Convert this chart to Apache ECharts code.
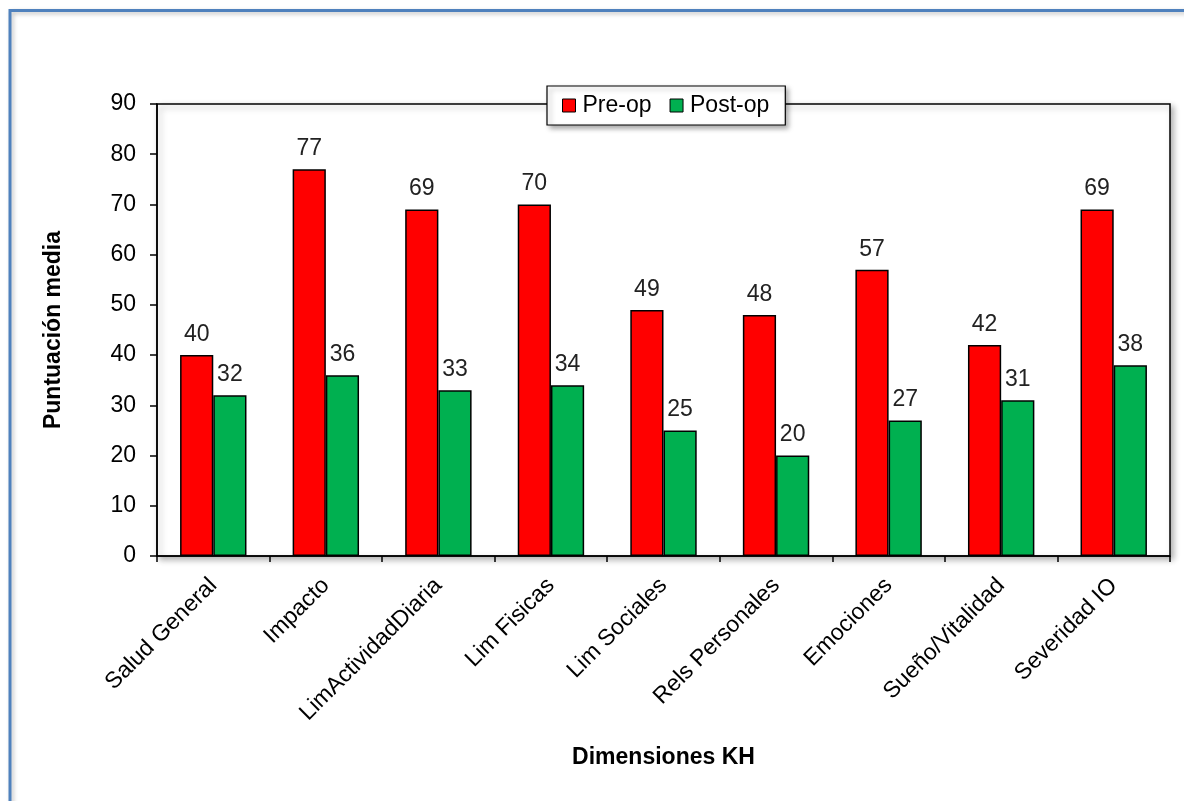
<!DOCTYPE html>
<html>
<head>
<meta charset="utf-8">
<script src="https://cdn.jsdelivr.net/npm/echarts@6/dist/echarts.min.js"></script>
<style>
  html, body { margin: 0; padding: 0; background: #fff; }
  #chart { width: 1184px; height: 801px; }
</style>
</head>
<body>
<div id="chart"></div>
<script>
// KH questionnaire dimensions, mean scores before and after surgery
const categories = ['Salud General', 'Impacto', 'LimActividadDiaria', 'Lim Fisicas', 'Lim Sociales',
  'Rels Personales', 'Emociones', 'Sueño/Vitalidad', 'Severidad IO'];
const preOp = [40, 77, 69, 70, 49, 48, 57, 42, 69];
const postOp = [32, 36, 33, 34, 25, 20, 27, 31, 38];
const seriesNames = ['Pre-op', 'Post-op'];

const FONT = '"Liberation Sans", Arial, sans-serif';

const chart = echarts.init(document.getElementById('chart'));

const labelStyle = {
  show: true,
  position: 'top',
  distance: 9,
  fontFamily: FONT,
  fontSize: 23,
  color: '#222'
};

chart.setOption({
  animation: false,
  backgroundColor: '#fff',
  graphic: [
    {
      // outer frame
      type: 'rect',
      z: -10,
      shape: { x: 10, y: 10.5, width: 1200, height: 820 },
      style: {
        fill: 'transparent',
        stroke: '#4F81BD',
        lineWidth: 3,
        shadowBlur: 4,
        shadowColor: 'rgba(0,0,0,0.25)',
        shadowOffsetX: 2,
        shadowOffsetY: 2
      }
    }
  ],
  grid: {
    left: 157,
    top: 104,
    right: 14,
    bottom: 245,
    show: true,
    backgroundColor: '#fff',
    borderColor: '#000',
    borderWidth: 1.5,
    shadowBlur: 6,
    shadowColor: 'rgba(0,0,0,0.3)',
    shadowOffsetX: 3,
    shadowOffsetY: 3
  },
  legend: {
    data: seriesNames,
    left: 547,
    top: 86,
    itemWidth: 13,
    itemHeight: 13,
    itemGap: 18,
    padding: [8, 16, 8, 15],
    backgroundColor: '#fff',
    borderColor: '#000',
    borderWidth: 1.2,
    shadowBlur: 5,
    shadowColor: 'rgba(0,0,0,0.35)',
    shadowOffsetX: 3,
    shadowOffsetY: 3,
    textStyle: { fontFamily: FONT, fontSize: 23, color: '#000', padding: [0, 0, 0, 2] },
    itemStyle: { borderColor: '#000', borderWidth: 1 },
    icon: 'rect'
  },
  xAxis: {
    type: 'category',
    data: categories,
    name: 'Dimensiones KH',
    nameLocation: 'middle',
    nameGap: 190,
    nameTextStyle: { fontFamily: FONT, fontSize: 23, fontWeight: 'bold', color: '#000' },
    axisLine: { lineStyle: { color: '#000', width: 1.5 } },
    axisTick: { show: true, alignWithLabel: false, length: 6, lineStyle: { color: '#000', width: 1.5 } },
    axisLabel: {
      rotate: 45,
      margin: 26,
      fontFamily: FONT,
      fontSize: 23,
      color: '#000'
    }
  },
  yAxis: {
    type: 'value',
    min: 0,
    max: 90,
    interval: 10,
    name: 'Puntuación media',
    nameLocation: 'middle',
    nameGap: 92,
    nameTextStyle: { fontFamily: FONT, fontSize: 23, fontWeight: 'bold', color: '#000' },
    axisLine: { show: true, lineStyle: { color: '#000', width: 1.5 } },
    axisTick: { show: true, length: 7, lineStyle: { color: '#000', width: 1.5 } },
    splitLine: { show: false },
    axisLabel: { margin: 21, fontFamily: FONT, fontSize: 23, color: '#000' }
  },
  series: [
    {
      name: seriesNames[0],
      type: 'bar',
      data: preOp,
      barGap: '0%',
      barCategoryGap: '41%',
      itemStyle: { color: '#FF0000', borderColor: '#000', borderWidth: 1.5 },
      label: labelStyle
    },
    {
      name: seriesNames[1],
      type: 'bar',
      data: postOp,
      itemStyle: { color: '#00B050', borderColor: '#000', borderWidth: 1.5 },
      label: labelStyle
    }
  ]
});
</script>
</body>
</html>
